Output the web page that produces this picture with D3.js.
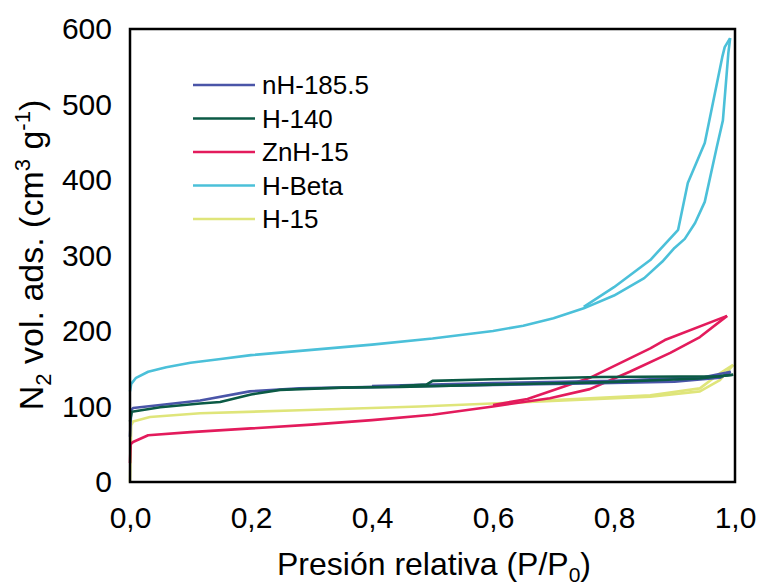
<!DOCTYPE html>
<html>
<head>
<meta charset="utf-8">
<script src="https://cdn.jsdelivr.net/npm/d3@7"></script>
<style>
  body { margin: 0; background: #fff; }
  text { font-family: "Liberation Sans", Arial, sans-serif; fill: #000; }
</style>
</head>
<body>
<div id="chart"></div>
<script>
// isotherm data: [P/P0, volume]
var seriesNames = ["nH-185.5", "H-140", "ZnH-15", "H-Beta", "H-15"];
var seriesColors = ["#4a55a8", "#0b5a45", "#e31b5c", "#4bc0d9", "#dfe57a"];

var nH185Ads = [[0,60],[0.002,95],[0.005,98],[0.05,102],[0.116,108],[0.198,120],[0.28,124],[0.479,127],[0.777,131],[0.9,133],[0.975,138],[0.993,146]];
var nH185Des = [[0.993,146],[0.95,139],[0.8,134],[0.6,131],[0.5,129],[0.4,127]];

var h140Ads = [[0,80],[0.003,93],[0.05,99],[0.116,104],[0.149,106],[0.2,116],[0.248,122],[0.35,125],[0.446,126],[0.6,129],[0.777,132],[0.942,137],[0.997,142]];
var h140Des = [[0.997,142],[0.975,140],[0.777,139],[0.6,136],[0.5,134],[0.49,129],[0.446,127]];

var znh15Ads = [[0,25],[0.001,50],[0.005,53],[0.03,62],[0.1,66],[0.2,71],[0.3,76],[0.4,82],[0.5,89],[0.6,100],[0.694,111],[0.76,123],[0.826,146],[0.893,171],[0.942,192],[0.987,220]];
var znh15Des = [[0.987,220],[0.884,188],[0.86,177],[0.76,138],[0.657,110],[0.6,102]];

var hBetaAds = [[0,120],[0.002,130],[0.01,138],[0.03,146],[0.06,152],[0.1,158],[0.15,163],[0.2,168],[0.3,175],[0.4,182],[0.5,190],[0.6,200],[0.65,207],[0.7,217],[0.75,230],[0.8,247],[0.85,270],[0.88,292],[0.9,310],[0.917,322],[0.934,343],[0.95,371],[0.97,444],[0.98,479],[0.989,568],[0.992,588]];
var hBetaDes = [[0.992,588],[0.983,576],[0.979,563],[0.95,449],[0.922,396],[0.906,334],[0.86,294],[0.8,258],[0.75,232]];

var h15Ads = [[0,0],[0.002,75],[0.005,80],[0.033,86],[0.116,91],[0.28,95],[0.479,100],[0.66,106],[0.86,113],[0.942,120],[0.975,135],[0.997,155]];
var h15Des = [[0.997,155],[0.975,144],[0.942,124],[0.86,115],[0.66,107]];

var xTicks = [0, 0.2, 0.4, 0.6, 0.8, 1.0];
var yTicks = [0, 100, 200, 300, 400, 500, 600];

var curves = [
  [nH185Ads, nH185Des],
  [h140Ads, h140Des],
  [znh15Ads, znh15Des],
  [hBetaAds, hBetaDes],
  [h15Ads, h15Des]
];

var width = 761, height = 583;
var margin = { top: 29, right: 26, bottom: 101, left: 130 };

var svg = d3.select("#chart")
    .append("svg")
    .attr("width", width)
    .attr("height", height);

var x = d3.scaleLinear().domain([0, 1]).range([margin.left, width - margin.right]);
var y = d3.scaleLinear().domain([0, 600]).range([height - margin.bottom, margin.top]);

var line = d3.line()
    .x(function(d) { return x(d[0]); })
    .y(function(d) { return y(d[1]); });

// draw the curves, last series first so the order on top matches
var plot = svg.append("g");
[4, 2, 3, 0, 1].forEach(function(i) {
    curves[i].forEach(function(branch) {
        plot.append("path")
            .attr("d", line(branch))
            .attr("fill", "none")
            .attr("stroke", seriesColors[i])
            .attr("stroke-width", 2.6)
            .attr("stroke-linejoin", "round");
    });
});

// frame
svg.append("rect")
    .attr("x", x(0))
    .attr("y", y(600))
    .attr("width", x(1) - x(0))
    .attr("height", y(0) - y(600))
    .attr("fill", "none")
    .attr("stroke", "#000")
    .attr("stroke-width", 2.5);

// axes without tick marks, just labels
var fmt = function(d) { return d3.format(".1f")(d).replace(".", ","); };
var xAxis = svg.append("g")
    .attr("transform", "translate(0," + y(0) + ")")
    .call(d3.axisBottom(x).tickValues(xTicks).tickFormat(fmt).tickSize(0).tickPadding(23));
var yAxis = svg.append("g")
    .attr("transform", "translate(" + x(0) + ",0)")
    .call(d3.axisLeft(y).tickValues(yTicks).tickSize(0).tickPadding(18));
[xAxis, yAxis].forEach(function(g) {
    g.select(".domain").remove();
    g.selectAll("text").style("font-size", "30px").attr("font-family", null);
});
xAxis.selectAll("text").attr("dy", "0.75em");

// axis titles
var xt = svg.append("text")
    .attr("x", 434)
    .attr("y", 575)
    .attr("text-anchor", "middle")
    .style("font-size", "32px");
xt.append("tspan").text("Presión relativa (P/P");
xt.append("tspan").text("0").style("font-size", "21px").attr("dy", 7);
xt.append("tspan").text(")").attr("dy", -7);

var yt = svg.append("text")
    .attr("transform", "translate(43," + 255 + ") rotate(-90)")
    .attr("text-anchor", "middle")
    .style("font-size", "34px");
yt.append("tspan").text("N");
yt.append("tspan").text("2").style("font-size", "22px").attr("dy", 8);
yt.append("tspan").text(" vol. ads. (cm").attr("dy", -8);
yt.append("tspan").text("3").style("font-size", "22px").attr("dy", -13);
yt.append("tspan").text(" g").attr("dy", 13);
yt.append("tspan").text("-1").style("font-size", "22px").attr("dy", -13);
yt.append("tspan").text(")").attr("dy", 13);

// legend
var legend = svg.append("g").attr("transform", "translate(193,85)");
seriesNames.forEach(function(name, i) {
    var row = legend.append("g").attr("transform", "translate(0," + (i * 33.5) + ")");
    row.append("line")
        .attr("x1", 0).attr("x2", 62)
        .attr("stroke", seriesColors[i])
        .attr("stroke-width", 2.6);
    row.append("text")
        .attr("x", 69)
        .attr("dy", "0.36em")
        .style("font-size", "26px")
        .text(name);
});
</script>
</body>
</html>
